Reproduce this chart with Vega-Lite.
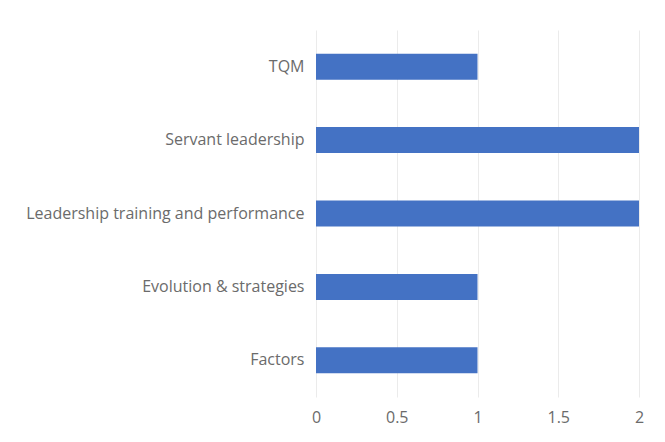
{
  "$schema": "https://vega.github.io/schema/vega-lite/v6.json",
  "autosize": {"type": "none"},
  "width": 323,
  "height": 367,
  "padding": {"left": 316, "top": 30, "right": 26, "bottom": 45},
  "background": "white",
  "config": {"view": {"stroke": null}},
  "data": {"values": [
    {"topic": "TQM", "count": 1},
    {"topic": "Servant leadership", "count": 2},
    {"topic": "Leadership training and performance", "count": 2},
    {"topic": "Evolution & strategies", "count": 1},
    {"topic": "Factors", "count": 1}
  ]},
  "mark": {"type": "bar", "color": "#4472C4"},
  "encoding": {
    "y": {
      "field": "topic", "type": "nominal", "sort": null,
      "scale": {"paddingInner": 0.646, "paddingOuter": 0.323},
      "axis": {"title": null, "domain": false, "ticks": false, "grid": false,
        "labelFont": "Open Sans", "labelFontSize": 16, "labelColor": "#6B6B6B",
        "labelPadding": 12, "labelLimit": 400}
    },
    "x": {
      "field": "count", "type": "quantitative",
      "scale": {"domain": [0, 2], "nice": false},
      "axis": {"title": null, "values": [0, 0.5, 1, 1.5, 2], "format": "~g", "domain": false, "ticks": false,
        "grid": true, "gridColor": "#EBEBEB", "gridWidth": 1,
        "labelFont": "Open Sans", "labelFontSize": 16, "labelColor": "#6B6B6B",
        "labelPadding": 12, "labelFlush": false}
    }
  }
}
